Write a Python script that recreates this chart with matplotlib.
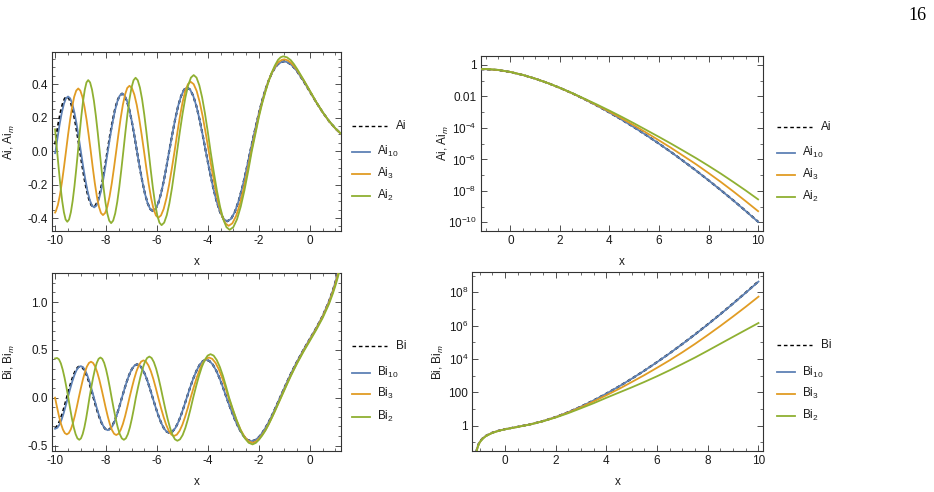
import matplotlib
matplotlib.use("Agg")
import matplotlib.pyplot as plt
from matplotlib.lines import Line2D
from matplotlib.ticker import MultipleLocator, FormatStrFormatter, NullFormatter

plt.rcParams['font.family'] = ['Liberation Sans', 'DejaVu Sans']
plt.rcParams['mathtext.fontset'] = 'custom'
plt.rcParams['mathtext.rm'] = 'Liberation Sans'
plt.rcParams['mathtext.it'] = 'Liberation Sans:italic'
plt.rcParams['axes.unicode_minus'] = False
plt.rcParams['lines.scale_dashes'] = False

# ---- Ai on the oscillating side (top left) ----
# start of Ai (black), x < -6.7
ai_head_x = [-10.0, -9.956, -9.872, -9.787, -9.703, -9.619, -9.535, -9.450, -9.365, -9.279, -9.194, -9.108,
             -9.023, -8.934, -8.845, -8.755, -8.666, -8.577, -8.488, -8.397, -8.307, -8.216, -8.125, -8.035,
             -7.944, -7.849, -7.753, -7.658, -7.563, -7.467, -7.372, -7.275, -7.177, -7.080, -6.982, -6.885,
             -6.787]
ai_head_y = [0.040, 0.084, 0.163, 0.230, 0.281, 0.314, 0.325, 0.314, 0.281, 0.230, 0.163, 0.084,
             0.0, -0.086, -0.167, -0.235, -0.288, -0.322, -0.333, -0.322, -0.288, -0.235, -0.167, -0.086,
             0.0, 0.089, 0.172, 0.243, 0.297, 0.331, 0.343, 0.331, 0.297, 0.243, 0.172, 0.089,
             0.0]
# start of Ai_10 (blue), x < -6.7
ai10_head_x = [-10.0, -9.98, -9.898, -9.817, -9.735, -9.653, -9.572, -9.490, -9.407, -9.323, -9.240, -9.157,
               -9.073, -8.990, -8.903, -8.815, -8.728, -8.640, -8.553, -8.465, -8.376, -8.287, -8.197, -8.108,
               -8.019, -7.930, -7.836, -7.742, -7.647, -7.553, -7.459, -7.365, -7.269, -7.172, -7.076, -6.980,
               -6.883, -6.787]
ai10_head_y = [-0.012, 0.0, 0.084, 0.163, 0.230, 0.282, 0.315, 0.326, 0.315, 0.282, 0.230, 0.163,
               0.084, 0.0, -0.087, -0.168, -0.238, -0.291, -0.325, -0.336, -0.325, -0.291, -0.238, -0.168,
               -0.087, 0.0, 0.089, 0.172, 0.243, 0.298, 0.332, 0.344, 0.332, 0.298, 0.243, 0.172,
               0.089, 0.0]
# common rest of Ai and Ai_10
ai_tail_x = [-6.683, -6.579, -6.475, -6.371, -6.267, -6.163, -6.056, -5.949, -5.842, -5.735, -5.628, -5.521,
             -5.404, -5.287, -5.171, -5.054, -4.937, -4.820, -4.698, -4.576, -4.454, -4.332, -4.210, -4.088,
             -3.948, -3.808, -3.668, -3.528, -3.388, -3.248, -3.096, -2.945, -2.793, -2.641, -2.490, -2.338,
             -2.2, -2.1, -2.0, -1.875, -1.75, -1.625, -1.5, -1.375, -1.25, -1.1, -1.0, -0.875, -0.75, -0.625,
             -0.5, -0.25, 0.0, 0.25, 0.5, 0.75, 1.0, 1.2]
ai_tail_y = [-0.093, -0.179, -0.253, -0.310, -0.346, -0.358, -0.346, -0.310, -0.253, -0.179, -0.093, 0.0,
             0.098, 0.190, 0.269, 0.329, 0.367, 0.380, 0.367, 0.329, 0.269, 0.190, 0.098, 0.0,
             -0.109, -0.210, -0.296, -0.363, -0.405, -0.419, -0.405, -0.363, -0.296, -0.210, -0.109, 0.0,
             0.096, 0.163, 0.227, 0.301, 0.365, 0.419, 0.464, 0.497, 0.520, 0.533, 0.536, 0.530, 0.518, 0.499,
             0.476, 0.418, 0.355, 0.291, 0.232, 0.179, 0.135, 0.106]

ai3_x = [-10.0, -9.970, -9.890, -9.810, -9.730, -9.650, -9.570, -9.490, -9.410, -9.330, -9.250, -9.170,
         -9.090, -9.008, -8.927, -8.845, -8.763, -8.682, -8.600, -8.520, -8.440, -8.360, -8.280, -8.200,
         -8.120, -8.033, -7.947, -7.860, -7.773, -7.687, -7.600, -7.513, -7.427, -7.340, -7.253, -7.167,
         -7.080, -6.985, -6.890, -6.795, -6.700, -6.605, -6.510, -6.417, -6.323, -6.230, -6.137, -6.043,
         -5.950, -5.843, -5.737, -5.630, -5.523, -5.417, -5.310, -5.205, -5.100, -4.995, -4.890, -4.785,
         -4.680, -4.562, -4.443, -4.325, -4.207, -4.088, -3.970, -3.840, -3.710, -3.580, -3.450, -3.320,
         -3.190, -3.042, -2.893, -2.745, -2.597, -2.448, -2.300,
         -2.2, -2.1, -2.0, -1.875, -1.75, -1.625, -1.5, -1.375, -1.25, -1.1, -1.0, -0.875, -0.75, -0.625,
         -0.5, -0.25, 0.0, 0.25, 0.5, 0.75, 1.0, 1.2]
ai3_y = [-0.367, -0.359, -0.322, -0.263, -0.186, -0.096, 0.0, 0.097, 0.187, 0.264, 0.324, 0.361,
         0.374, 0.361, 0.324, 0.264, 0.187, 0.097, 0.0, -0.099, -0.191, -0.270, -0.331, -0.369,
         -0.382, -0.369, -0.331, -0.270, -0.191, -0.099, 0.0, 0.101, 0.195, 0.276, 0.338, 0.377,
         0.390, 0.377, 0.338, 0.276, 0.195, 0.101, 0.0, -0.103, -0.199, -0.281, -0.345, -0.384,
         -0.398, -0.384, -0.345, -0.281, -0.199, -0.103, 0.0, 0.107, 0.207, 0.293, 0.359, 0.400,
         0.414, 0.400, 0.359, 0.293, 0.207, 0.107, 0.0, -0.116, -0.223, -0.315, -0.386, -0.431,
         -0.446, -0.431, -0.386, -0.315, -0.223, -0.116, 0.0,
         0.072, 0.142, 0.215, 0.290, 0.357, 0.418, 0.466, 0.503, 0.530, 0.545, 0.548, 0.542, 0.528, 0.508,
         0.484, 0.424, 0.358, 0.292, 0.232, 0.179, 0.135, 0.106]

ai2_x = [-10.0, -9.920, -9.853, -9.787, -9.720, -9.653, -9.587, -9.520, -9.450, -9.380, -9.310, -9.240,
         -9.170, -9.100, -9.033, -8.967, -8.900, -8.833, -8.767, -8.700, -8.625, -8.550, -8.475, -8.400,
         -8.325, -8.250, -8.175, -8.100, -8.025, -7.950, -7.875, -7.800, -7.720, -7.640, -7.560, -7.480,
         -7.400, -7.320, -7.240, -7.160, -7.080, -7.000, -6.920, -6.840, -6.755, -6.670, -6.585, -6.500,
         -6.415, -6.330, -6.245, -6.160, -6.075, -5.990, -5.905, -5.820, -5.718, -5.617, -5.515, -5.413,
         -5.312, -5.210, -5.102, -4.993, -4.885, -4.777, -4.668, -4.560, -4.450, -4.340, -4.230, -4.120,
         -4.010, -3.900, -3.775, -3.650, -3.525, -3.400, -3.275, -3.150, -3.005, -2.860, -2.715, -2.570,
         -2.425, -2.280,
         -2.2, -2.1, -2.0, -1.875, -1.75, -1.625, -1.5, -1.375, -1.25, -1.15, -1.05, -0.9, -0.75, -0.625,
         -0.5, -0.25, 0.0, 0.25, 0.5, 0.75, 1.0, 1.2]
ai2_y = [0.130, 0.0, -0.109, -0.211, -0.298, -0.365, -0.408, -0.422, -0.408, -0.365, -0.298, -0.211,
         -0.109, 0.0, 0.110, 0.212, 0.300, 0.367, 0.410, 0.424, 0.410, 0.367, 0.300, 0.212,
         0.110, 0.0, -0.111, -0.215, -0.304, -0.372, -0.415, -0.430, -0.415, -0.372, -0.304, -0.215,
         -0.111, 0.0, 0.113, 0.219, 0.310, 0.379, 0.423, 0.438, 0.423, 0.379, 0.310, 0.219,
         0.113, 0.0, -0.114, -0.221, -0.313, -0.383, -0.427, -0.442, -0.427, -0.383, -0.313, -0.221,
         -0.114, 0.0, 0.118, 0.227, 0.321, 0.393, 0.439, 0.454, 0.439, 0.393, 0.321, 0.227,
         0.118, 0.0, -0.122, -0.235, -0.332, -0.407, -0.454, -0.470, -0.454, -0.407, -0.332, -0.235,
         -0.122, 0.0,
         0.058, 0.131, 0.205, 0.284, 0.352, 0.415, 0.468, 0.511, 0.545, 0.560, 0.566, 0.560, 0.543, 0.519,
         0.490, 0.426, 0.360, 0.293, 0.233, 0.180, 0.136, 0.107]

# ---- Bi on the oscillating side (bottom left) ----
bi_head_x = [-10.0, -9.956, -9.873, -9.789, -9.705, -9.622, -9.538, -9.452, -9.365, -9.279, -9.193, -9.106,
             -9.020, -8.932, -8.844, -8.756, -8.668, -8.580, -8.492, -8.400, -8.308, -8.216, -8.124, -8.032,
             -7.940, -7.846, -7.752, -7.659, -7.565, -7.471, -7.377]
bi_head_y = [-0.319, -0.310, -0.278, -0.227, -0.161, -0.083, 0.0, 0.085, 0.165, 0.233, 0.285, 0.318,
             0.329, 0.318, 0.285, 0.233, 0.165, 0.085, 0.0, -0.088, -0.169, -0.239, -0.293, -0.326,
             -0.338, -0.326, -0.293, -0.239, -0.169, -0.088, 0.0]
bi10_head_x = [-10.0, -9.908, -9.827, -9.745, -9.663, -9.582, -9.500, -9.415, -9.330, -9.245, -9.160, -9.075,
               -8.990, -8.904, -8.818, -8.733, -8.647, -8.561, -8.475, -8.384, -8.293, -8.203, -8.112, -8.021,
               -7.930, -7.838, -7.746, -7.654, -7.562, -7.469, -7.377]
bi10_head_y = [-0.325, -0.314, -0.281, -0.230, -0.163, -0.084, 0.0, 0.085, 0.165, 0.233, 0.286, 0.319,
               0.330, 0.319, 0.286, 0.233, 0.165, 0.085, 0.0, -0.088, -0.170, -0.240, -0.294, -0.328,
               -0.340, -0.328, -0.294, -0.240, -0.170, -0.088, 0.0]
bi_tail_x = [-7.278, -7.178, -7.079, -6.980, -6.880, -6.781, -6.679, -6.577, -6.476, -6.374, -6.272, -6.170,
             -6.060, -5.951, -5.841, -5.731, -5.622, -5.512, -5.399, -5.285, -5.172, -5.058, -4.945, -4.831,
             -4.705, -4.578, -4.452, -4.326, -4.199, -4.073, -3.939, -3.806, -3.672, -3.538, -3.405, -3.271,
             -3.108, -2.945, -2.783, -2.620, -2.457, -2.294,
             -2.15, -2.0, -1.875, -1.75, -1.625, -1.5, -1.375, -1.25, -1.125, -1.0, -0.875, -0.75, -0.625,
             -0.5, -0.25, 0.0, 0.25, 0.5, 0.75, 0.9, 1.0, 1.1, 1.2]
bi_tail_y = [0.090, 0.175, 0.247, 0.302, 0.337, 0.349, 0.337, 0.302, 0.247, 0.175, 0.090, 0.0,
             -0.095, -0.184, -0.260, -0.319, -0.355, -0.368, -0.355, -0.319, -0.260, -0.184, -0.095, 0.0,
             0.103, 0.199, 0.281, 0.344, 0.383, 0.397, 0.383, 0.344, 0.281, 0.199, 0.103, 0.0,
             -0.118, -0.228, -0.322, -0.394, -0.440, -0.455,
             -0.444, -0.412, -0.370, -0.318, -0.258, -0.192, -0.120, -0.046, 0.029, 0.104, 0.177, 0.248, 0.316,
             0.380, 0.501, 0.615, 0.729, 0.854, 1.007, 1.120, 1.207, 1.307, 1.421]

bi3_x = [-10.0, -9.923, -9.847, -9.770, -9.693, -9.617, -9.540, -9.462, -9.383, -9.305, -9.227, -9.148,
         -9.070, -8.990, -8.910, -8.830, -8.750, -8.670, -8.590, -8.508, -8.427, -8.345, -8.263, -8.182,
         -8.100, -8.017, -7.933, -7.850, -7.767, -7.683, -7.600, -7.513, -7.427, -7.340, -7.253, -7.167,
         -7.080, -6.988, -6.897, -6.805, -6.713, -6.622, -6.530, -6.433, -6.337, -6.240, -6.143, -6.047,
         -5.950, -5.847, -5.743, -5.640, -5.537, -5.433, -5.330, -5.222, -5.113, -5.005, -4.897, -4.788,
         -4.680, -4.560, -4.440, -4.320, -4.200, -4.080, -3.960, -3.832, -3.703, -3.575, -3.447, -3.318,
         -3.190, -3.033, -2.877, -2.720, -2.563, -2.407, -2.250,
         -2.12, -2.0, -1.875, -1.75, -1.625, -1.5, -1.375, -1.25, -1.125, -1.0, -0.875, -0.75, -0.625,
         -0.5, -0.25, 0.0, 0.25, 0.5, 0.75, 0.9, 1.0, 1.1, 1.2]
bi3_y = [0.0, -0.099, -0.192, -0.271, -0.332, -0.370, -0.383, -0.370, -0.332, -0.271, -0.192, -0.099,
         0.0, 0.097, 0.188, 0.266, 0.326, 0.363, 0.376, 0.363, 0.326, 0.266, 0.188, 0.097,
         0.0, -0.101, -0.195, -0.276, -0.338, -0.377, -0.390, -0.377, -0.338, -0.276, -0.195, -0.101,
         0.0, 0.101, 0.195, 0.276, 0.338, 0.377, 0.390, 0.377, 0.338, 0.276, 0.195, 0.101,
         0.0, -0.104, -0.200, -0.283, -0.346, -0.386, -0.400, -0.386, -0.346, -0.283, -0.200, -0.104,
         0.0, 0.109, 0.210, 0.297, 0.364, 0.406, 0.420, 0.406, 0.364, 0.297, 0.210, 0.109,
         0.0, -0.122, -0.236, -0.334, -0.409, -0.456, -0.472,
         -0.458, -0.430, -0.389, -0.339, -0.278, -0.211, -0.139, -0.064, 0.011, 0.086, 0.160, 0.232, 0.300,
         0.366, 0.490, 0.605, 0.720, 0.845, 0.995, 1.106, 1.190, 1.288, 1.400]

bi2_x = [-10.0, -9.920, -9.847, -9.773, -9.700, -9.627, -9.553, -9.480, -9.408, -9.337, -9.265, -9.193,
         -9.122, -9.050, -8.983, -8.917, -8.850, -8.783, -8.717, -8.650, -8.578, -8.507, -8.435, -8.363,
         -8.292, -8.220, -8.147, -8.073, -8.000, -7.927, -7.853, -7.780, -7.700, -7.620, -7.540, -7.460,
         -7.380, -7.300, -7.222, -7.143, -7.065, -6.987, -6.908, -6.830, -6.742, -6.653, -6.565, -6.477,
         -6.388, -6.300, -6.212, -6.123, -6.035, -5.947, -5.858, -5.770, -5.675, -5.580, -5.485, -5.390,
         -5.295, -5.200, -5.097, -4.993, -4.890, -4.787, -4.683, -4.580, -4.467, -4.353, -4.240, -4.127,
         -4.013, -3.900, -3.778, -3.657, -3.535, -3.413, -3.292, -3.170, -3.017, -2.863, -2.710, -2.557,
         -2.403, -2.250,
         -2.12, -2.0, -1.875, -1.75, -1.625, -1.5, -1.375, -1.25, -1.125, -1.0, -0.875, -0.75, -0.625,
         -0.5, -0.25, 0.0, 0.25, 0.5, 0.75, 0.9, 1.0, 1.1, 1.2]
bi2_y = [0.410, 0.415, 0.401, 0.359, 0.293, 0.208, 0.107, 0.0, -0.114, -0.220, -0.311, -0.381,
         -0.425, -0.440, -0.425, -0.381, -0.311, -0.220, -0.114, 0.0, 0.109, 0.210, 0.297, 0.364,
         0.406, 0.420, 0.406, 0.364, 0.297, 0.210, 0.109, 0.0, -0.114, -0.220, -0.311, -0.381,
         -0.425, -0.440, -0.425, -0.381, -0.311, -0.220, -0.114, 0.0, 0.111, 0.215, 0.304, 0.372,
         0.415, 0.430, 0.415, 0.372, 0.304, 0.215, 0.111, 0.0, -0.117, -0.225, -0.318, -0.390,
         -0.435, -0.450, -0.435, -0.390, -0.318, -0.225, -0.117, 0.0, 0.118, 0.228, 0.322, 0.394,
         0.440, 0.455, 0.440, 0.394, 0.322, 0.228, 0.118, 0.0, -0.126, -0.244, -0.345, -0.423,
         -0.471, -0.488,
         -0.472, -0.440, -0.396, -0.345, -0.283, -0.214, -0.142, -0.068, 0.006, 0.080, 0.154, 0.226, 0.294,
         0.360, 0.482, 0.595, 0.710, 0.833, 0.980, 1.088, 1.170, 1.262, 1.370]

# ---- Ai on the decaying side, log scale (top right) ----
ail_x = [-1.2, -1.0, -0.5, 0.0, 0.5, 1.0, 1.5, 2.0, 2.5, 3.0, 3.5, 4.0,
         4.5, 5.0, 5.5, 6.0, 6.5, 7.0, 7.5, 8.0, 8.5, 9.0, 9.5, 10.0]
ail = [0.527, 0.5356, 0.4757, 0.3550, 0.2317, 0.1353, 0.07175, 0.03492, 0.01573, 0.006591, 0.002584, 9.516e-4,
       3.302e-4, 1.083e-4, 3.36e-5, 9.95e-6, 2.81e-6, 7.49e-7, 1.93e-7, 4.69e-8, 1.10e-8, 2.48e-9, 5.3e-10, 1.10e-10]
ail10 = [0.527, 0.5356, 0.4757, 0.3550, 0.2317, 0.1353, 0.07175, 0.03492, 0.01573, 0.006591, 0.002584, 9.51e-4,
         3.30e-4, 1.082e-4, 3.355e-5, 9.93e-6, 2.80e-6, 7.46e-7, 1.92e-7, 4.66e-8, 1.09e-8, 2.46e-9, 5.25e-10, 1.07e-10]
ail3 = [0.535, 0.545, 0.482, 0.358, 0.2325, 0.1355, 0.0718, 0.0350, 0.01578, 0.006745, 0.002736, 1.068e-3,
        3.969e-4, 1.427e-4, 4.856e-5, 1.614e-5, 5.23e-6, 1.601e-6, 4.85e-7, 1.353e-7, 3.64e-8, 9.21e-9, 2.21e-9, 5.14e-10]
ail2 = [0.545, 0.563, 0.490, 0.360, 0.233, 0.1357, 0.0719, 0.03532, 0.01628, 0.007065, 0.003036, 1.254e-3,
        5.0e-4, 1.926e-4, 7.18e-5, 2.679e-5, 9.74e-6, 3.42e-6, 1.19e-6, 3.90e-7, 1.234e-7, 3.67e-8, 1.057e-8, 2.89e-9]

# ---- Bi on the growing side, log scale (bottom right) ----
bil_x = [-1.17, -1.15, -1.12, -1.1, -1.05, -1.0, -0.9, -0.75, -0.5, -0.25, 0.0, 0.5, 1.0, 1.5, 2.0, 2.5,
         3.0, 3.5, 4.0, 4.5, 5.0, 5.5, 6.0, 6.5, 7.0, 7.5, 8.0, 8.5, 9.0, 9.5, 10.0]
bil = [0.0018, 0.0140, 0.0322, 0.0443, 0.0744, 0.104, 0.163, 0.248, 0.380, 0.501, 0.615, 0.854, 1.207, 1.879,
       3.298, 6.482, 14.04, 32.97, 83.85, 227.4, 657.8, 2014, 6540, 2.22e4, 8.03e4, 3.02e5, 1.20e6, 4.97e6,
       2.15e7, 9.68e7, 4.556e8]
bil10 = [0.0018, 0.0140, 0.0322, 0.0443, 0.0744, 0.104, 0.163, 0.248, 0.380, 0.501, 0.615, 0.854, 1.207, 1.879,
         3.298, 6.48, 14.03, 32.9, 83.7, 226.8, 655.5, 2005, 6500, 2.20e4, 7.95e4, 2.98e5, 1.18e6, 4.88e6,
         2.11e7, 9.45e7, 4.40e8]
bil3 = [0.0012, 0.0100, 0.0280, 0.0400, 0.0700, 0.0990, 0.158, 0.243, 0.375, 0.495, 0.607, 0.847, 1.199, 1.86,
        3.22, 6.19, 12.8, 28.4, 66.6, 161.0, 415.0, 1081, 2989, 8440, 2.54e4, 8.12e4, 2.75e5, 9.69e5,
        3.57e6, 1.365e7, 5.47e7]
bil2 = [0.0010, 0.0085, 0.026, 0.037, 0.066, 0.095, 0.153, 0.237, 0.368, 0.487, 0.600, 0.838, 1.18, 1.847,
        3.078, 5.652, 11.15, 22.3, 47.1, 97.0, 198.7, 420.9, 924, 2120, 5067, 1.229e4, 3.156e4, 8.25e4,
        2.15e5, 5.57e5, 1.44e6]

BLUE, ORANGE, GREEN = '#5E81B5', '#E19C24', '#8FB032'
FRAME = '#333333'
TXT = '#1a1a1a'
FS = 8.5
W, H = 934, 492


def fx(px):
    return px / W


def fy(py):
    return 1 - py / H


def style_frame(ax):
    for s in ax.spines.values():
        s.set_color(FRAME)
        s.set_linewidth(0.8)
    ax.tick_params(which='both', direction='in', top=True, right=True, color=FRAME,
                   labelsize=FS, labelcolor=TXT, pad=3)
    ax.tick_params(which='major', length=4, width=0.6)
    ax.tick_params(which='minor', length=2, width=0.5)


def draw(ax, curves):
    xs, ys = curves[0]
    ax.plot(xs, ys, color='black', lw=1.5, ls=(0, (2.6, 2.0)), zorder=2)
    for (xs, ys), c in zip(curves[1:], [BLUE, ORANGE, GREEN]):
        ax.plot(xs, ys, color=c, lw=1.3, zorder=3)


def add_legend(fig, x0, y0, ys, name, subs):
    fig.add_artist(Line2D([fx(x0), fx(x0 + 35)], [fy(y0)] * 2, color='black', lw=1.0,
                          ls=(0, (2.6, 2.0))))
    fig.text(fx(x0 + 44), fy(y0 + 3.2), name, fontsize=FS, color=TXT, va='baseline')
    for y, s, c in zip(ys, subs, [BLUE, ORANGE, GREEN]):
        fig.add_artist(Line2D([fx(x0), fx(x0 + 17.5)], [fy(y)] * 2, color=c, lw=1.3))
        fig.text(fx(x0 + 25), fy(y + 3.2), name + '$_{' + s + '}$', fontsize=FS, color=TXT, va='baseline')


fig = plt.figure(figsize=(9.34, 4.92), dpi=100)

# top left
ax1 = fig.add_axes([fx(52), fy(231), (341 - 52) / W, (231 - 52.3) / H])
draw(ax1, [(ai_head_x + ai_tail_x, ai_head_y + ai_tail_y),
           (ai10_head_x + ai_tail_x, ai10_head_y + ai_tail_y),
           (ai3_x, ai3_y), (ai2_x, ai2_y)])
ax1.set_xlim(-10.12, 1.22)
ax1.set_ylim(-0.477, 0.59)
ax1.xaxis.set_major_locator(MultipleLocator(2))
ax1.xaxis.set_minor_locator(MultipleLocator(0.5))
ax1.yaxis.set_major_locator(MultipleLocator(0.2))
ax1.yaxis.set_minor_locator(MultipleLocator(0.05))
ax1.yaxis.set_major_formatter(FormatStrFormatter('%.1f'))
style_frame(ax1)
ax1.set_xlabel('x', fontsize=FS, color=TXT)
ax1.set_ylabel('Ai, Ai$_m$', fontsize=FS, color=TXT)
ax1.xaxis.set_label_coords(0.5, -0.142)
ax1.yaxis.set_label_coords(-0.121, 0.5)

# bottom left
ax3 = fig.add_axes([fx(52), fy(451), (341 - 52) / W, (451 - 273.3) / H])
draw(ax3, [(bi_head_x + bi_tail_x, bi_head_y + bi_tail_y),
           (bi10_head_x + bi_tail_x, bi10_head_y + bi_tail_y),
           (bi3_x, bi3_y), (bi2_x, bi2_y)])
ax3.set_xlim(-10.12, 1.22)
ax3.set_ylim(-0.557, 1.30)
ax3.xaxis.set_major_locator(MultipleLocator(2))
ax3.xaxis.set_minor_locator(MultipleLocator(0.5))
ax3.yaxis.set_major_locator(MultipleLocator(0.5))
ax3.yaxis.set_minor_locator(MultipleLocator(0.1))
ax3.yaxis.set_major_formatter(FormatStrFormatter('%.1f'))
style_frame(ax3)
ax3.set_xlabel('x', fontsize=FS, color=TXT)
ax3.set_ylabel('Bi, Bi$_m$', fontsize=FS, color=TXT)
ax3.xaxis.set_label_coords(0.5, -0.143)
ax3.yaxis.set_label_coords(-0.121, 0.5)

# top right
ax2 = fig.add_axes([fx(480.7), fy(230.7), (763.3 - 480.7) / W, (230.7 - 56) / H])
draw(ax2, [(ail_x, ail), (ail_x, ail10), (ail_x, ail3), (ail_x, ail2)])
ax2.set_yscale('log')
ax2.set_xlim(-1.2, 10.21)
ax2.set_ylim(10 ** -10.53, 10 ** 0.57)
ax2.xaxis.set_major_locator(MultipleLocator(2))
ax2.xaxis.set_minor_locator(MultipleLocator(0.5))
ax2.set_yticks([1, 1e-2, 1e-4, 1e-6, 1e-8, 1e-10],
               ['1', '0.01', '10$^{-4}$', '10$^{-6}$', '10$^{-8}$', '10$^{-10}$'])
ax2.set_yticks([1e-1, 1e-3, 1e-5, 1e-7, 1e-9], minor=True)
ax2.yaxis.set_minor_formatter(NullFormatter())
style_frame(ax2)
ax2.set_xlabel('x', fontsize=FS, color=TXT)
ax2.set_ylabel('Ai, Ai$_m$', fontsize=FS, color=TXT)
ax2.xaxis.set_label_coords(0.5, -0.147)
ax2.yaxis.set_label_coords(-0.106, 0.5)

# bottom right
ax4 = fig.add_axes([fx(472.3), fy(451), (763.3 - 472.3) / W, (451 - 272.3) / H])
draw(ax4, [(bil_x, bil), (bil_x, bil10), (bil_x, bil3), (bil_x, bil2)])
ax4.set_yscale('log')
ax4.set_xlim(-1.29, 10.19)
ax4.set_ylim(10 ** -1.52, 10 ** 9.2)
ax4.xaxis.set_major_locator(MultipleLocator(2))
ax4.xaxis.set_minor_locator(MultipleLocator(0.5))
ax4.set_yticks([1, 1e2, 1e4, 1e6, 1e8], ['1', '100', '10$^4$', '10$^6$', '10$^8$'])
ax4.set_yticks([1e-1, 1e1, 1e3, 1e5, 1e7, 1e9], minor=True)
ax4.yaxis.set_minor_formatter(NullFormatter())
style_frame(ax4)
ax4.set_xlabel('x', fontsize=FS, color=TXT)
ax4.set_ylabel('Bi, Bi$_m$', fontsize=FS, color=TXT)
ax4.xaxis.set_label_coords(0.5, -0.142)
ax4.yaxis.set_label_coords(-0.09, 0.5)

subs = ['10', '3', '2']
add_legend(fig, 352, 126, [152, 173.5, 195.5], 'Ai', subs)
add_legend(fig, 777, 127, [153, 175, 197], 'Ai', subs)
add_legend(fig, 352, 346, [372.5, 394, 416.5], 'Bi', subs)
add_legend(fig, 777, 345, [372.3, 393.7, 416], 'Bi', subs)

# page number
fig.text(fx(927), fy(20), '16', fontsize=13, family='Liberation Serif', ha='right', va='baseline')

fig.savefig('out.png', dpi=100)
